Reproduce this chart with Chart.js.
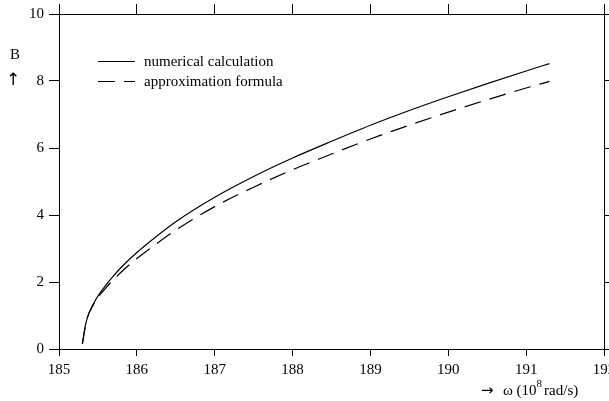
<!DOCTYPE html>
<html>
<head>
<meta charset="utf-8">
<script src="https://cdn.jsdelivr.net/npm/chart.js@4/dist/chart.umd.min.js"></script>
<style>
html,body{margin:0;padding:0;background:#fff;}
#c{display:block;}
</style>
</head>
<body>
<canvas id="c" width="609" height="401"></canvas>
<script>
const omega = [185.30, 185.35, 185.45, 185.60, 185.70, 185.80, 186.00, 186.25, 186.50, 187.00, 187.50, 188.00, 188.50, 189.00, 189.50, 190.00, 190.50, 191.00, 191.30];
const numerical = [0.15, 0.82, 1.38, 1.90, 2.18, 2.44, 2.88, 3.36, 3.80, 4.53, 5.15, 5.70, 6.20, 6.68, 7.12, 7.53, 7.92, 8.30, 8.52];
const approximation = [0.15, 0.82, 1.36, 1.82, 2.07, 2.30, 2.70, 3.14, 3.55, 4.25, 4.83, 5.35, 5.82, 6.27, 6.68, 7.07, 7.44, 7.79, 7.99];
const seriesLabels = ['numerical calculation', 'approximation formula'];
const xRange = [185, 192];
const yRange = [0, 10];
const xStep = 1;
const yStep = 2;
const yTitle = ['B', '\u2191'];
const xTitleParts = ['\u2192', '\u03c9 (10', '8', 'rad/s)'];

const FONT = "'Liberation Serif', 'DejaVu Serif', serif";
const ARROWFONT = "'DejaVu Sans', sans-serif";

function pts(xs, ys){ return xs.map((x,i)=>({x:x, y:ys[i]})); }

const fixedSize = (w, h) => (scale) => {
  if (w !== null) scale.width = w;
  if (h !== null) scale.height = h;
  scale.paddingLeft = 0; scale.paddingRight = 0; scale.paddingTop = 0; scale.paddingBottom = 0;
};

const decor = {
  id: 'decor',
  afterDraw(chart){
    const ctx = chart.ctx;
    ctx.save();
    ctx.fillStyle = '#000';
    ctx.strokeStyle = '#000';
    // y title
    ctx.font = '15px ' + FONT;
    ctx.textAlign = 'center';
    ctx.textBaseline = 'middle';
    ctx.fillText(yTitle[0], 15, 55);
    ctx.font = '17px ' + ARROWFONT;
    ctx.fillText(yTitle[1], 13, 81);
    // legend
    const ds = chart.data.datasets;
    const lx0 = 98, lx1 = 135, ly = [61, 81];
    ctx.font = '15px ' + FONT;
    ds.forEach((d, i) => {
      ctx.beginPath();
      ctx.lineWidth = 1.2;
      ctx.setLineDash(d.borderDash || []);
      ctx.moveTo(lx0, ly[i] + 0.5);
      ctx.lineTo(lx1, ly[i] + 0.5);
      ctx.stroke();
      ctx.setLineDash([]);
      ctx.textAlign = 'left';
      ctx.textBaseline = 'middle';
      ctx.fillText(d.label, 144, ly[i] + 1);
    });
    // x title
    ctx.textAlign = 'left';
    ctx.textBaseline = 'middle';
    const yb = 395;
    ctx.font = '15px ' + ARROWFONT;
    ctx.fillText(xTitleParts[0], 481, 391);
    ctx.textBaseline = 'alphabetic';
    let x = 503;
    ctx.font = '15px ' + FONT;
    ctx.fillText(xTitleParts[1], x, yb);
    x += ctx.measureText(xTitleParts[1]).width;
    ctx.font = '11px ' + FONT;
    ctx.fillText(xTitleParts[2], x, yb - 8);
    x += ctx.measureText(xTitleParts[2]).width + 2;
    ctx.font = '15px ' + FONT;
    ctx.fillText(xTitleParts[3], x, yb);
    ctx.restore();
  }
};

const axisCommon = {
  border: {display: true, color: '#000', width: 1},
  grid: {drawOnChartArea: false, drawTicks: true, tickLength: 9, color: '#000', lineWidth: 1}
};

new Chart(document.getElementById('c'), {
  type: 'line',
  data: {
    datasets: [
      {label: seriesLabels[0], data: pts(omega, numerical), borderColor: '#000', borderWidth: 1.2, pointRadius: 0, cubicInterpolationMode: 'monotone', fill: false},
      {label: seriesLabels[1], data: pts(omega, approximation), borderColor: '#000', borderWidth: 1.2, borderDash: [17, 9], pointRadius: 0, cubicInterpolationMode: 'monotone', fill: false}
    ]
  },
  options: {
    responsive: false,
    animation: false,
    devicePixelRatio: 1,
    layout: {padding: 0},
    plugins: {legend: {display: false}, tooltip: {enabled: false}},
    scales: {
      x: Object.assign({}, axisCommon, {
        type: 'linear', position: 'bottom', min: xRange[0], max: xRange[1],
        grid: Object.assign({}, axisCommon.grid, {tickLength: 7}),
        ticks: {stepSize: xStep, color: '#000', font: {family: FONT, size: 15}, padding: 5, maxRotation: 0},
        afterFit: fixedSize(null, 52)
      }),
      x2: Object.assign({}, axisCommon, {
        type: 'linear', position: 'top', min: xRange[0], max: xRange[1],
        grid: Object.assign({}, axisCommon.grid, {tickLength: 10}),
        ticks: {stepSize: xStep, display: false},
        afterFit: fixedSize(null, 14)
      }),
      y: Object.assign({}, axisCommon, {
        type: 'linear', position: 'left', min: yRange[0], max: yRange[1],
        grid: Object.assign({}, axisCommon.grid, {tickLength: 10}),
        ticks: {stepSize: yStep, color: '#000', font: {family: FONT, size: 15}, padding: 5},
        afterFit: fixedSize(59, null)
      }),
      y2: Object.assign({}, axisCommon, {
        type: 'linear', position: 'right', min: yRange[0], max: yRange[1],
        grid: Object.assign({}, axisCommon.grid, {tickLength: 6}),
        ticks: {stepSize: yStep, display: false},
        afterFit: fixedSize(5, null)
      })
    }
  },
  plugins: [decor]
});
</script>
</body>
</html>
